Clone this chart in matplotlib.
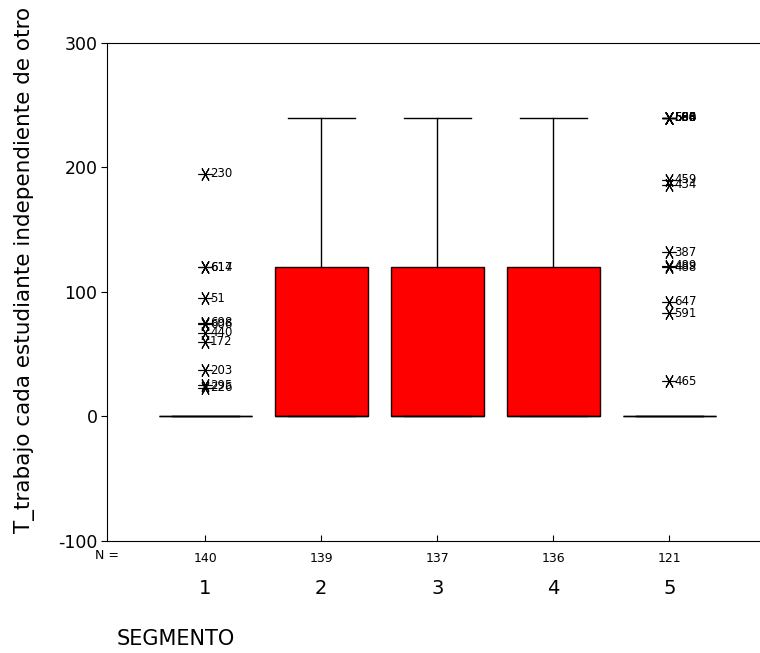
import numpy as np
import matplotlib
matplotlib.use("Agg")
import matplotlib.pyplot as plt

plt.rcParams['font.family'] = ['DejaVu Sans']
plt.rcParams['axes.unicode_minus'] = False

# datos por segmento
segmentos = ['1', '2', '3', '4', '5']
n_casos = [140, 139, 137, 136, 121]
q1 = [0, 0, 0, 0, 0]
mediana = [0, 0, 0, 0, 0]
q3 = [0, 120, 120, 120, 0]
bigote_inf = [0, 0, 0, 0, 0]
bigote_sup = [0, 240, 240, 240, 0]

# casos extremos (valor, numero de caso)
extremos_1 = [(195, '230'), (120, '614'), (120, '617'), (95, '51'),
              (75, '698'), (74, '606'), (67, '440'), (60, '172'),
              (37, '203'), (25, '295'), (23, '226')]
extremos_5 = [(240, '568'), (240, '550'), (240, '566'), (240, '593'),
              (240, '584'), (240, '600'), (190, '459'), (186, '434'),
              (132, '387'), (120, '488'), (121, '489'), (92, '647'),
              (83, '591'), (28, '465')]
extremos = {1: extremos_1, 5: extremos_5}

etiqueta_y = 'T_trabajo cada estudiante independiente de otro'
etiqueta_x = 'SEGMENTO'

#--------------------------------------------------------------------
# grafica
#--------------------------------------------------------------------

fig = plt.figure(figsize=(7.6, 6.53), dpi=100)
ax = fig.add_axes([0.141, 0.172, 0.859, 0.762])

stats = []
for i in range(len(segmentos)):
    stats.append(dict(q1=q1[i], med=mediana[i], q3=q3[i],
                      whislo=bigote_inf[i], whishi=bigote_sup[i], fliers=[]))

pos = np.arange(1, len(segmentos) + 1)
ax.bxp(stats, positions=pos, widths=0.8, capwidths=0.58, patch_artist=True,
       showfliers=False,
       boxprops=dict(facecolor='#ff0000', edgecolor='#200000', linewidth=1),
       medianprops=dict(color='black', linewidth=1),
       whiskerprops=dict(color='black', linewidth=1),
       capprops=dict(color='black', linewidth=1))

# asteriscos de los extremos
for seg, lista in extremos.items():
    vals = [v for v, _ in lista]
    ax.plot([seg] * len(vals), vals, linestyle='none', marker=(6, 2, 90),
            markersize=10, color='black', markeredgewidth=0.8)
    for v, caso in lista:
        ax.annotate(caso, (seg, v), xytext=(3.5, 0), textcoords='offset points',
                    va='center', ha='left', fontsize=8.5, color='black')

ax.set_xlim(0.155, 5.78)
ax.set_ylim(-100, 300)
ax.set_yticks([-100, 0, 100, 200, 300])
ax.tick_params(axis='y', direction='out', length=4, labelsize=12.5, pad=3)
ax.set_xticks(pos)
ax.set_xticklabels([str(n) for n in n_casos])
ax.tick_params(axis='x', direction='in', length=4, labelsize=9, pad=8)
ax.spines['right'].set_visible(False)

# numeros de segmento debajo de los N
for p, s in zip(pos, segmentos):
    ax.annotate(s, (p, 0), xycoords=('data', 'axes fraction'),
                xytext=(0, -34.5), textcoords='offset points',
                ha='center', va='center', fontsize=14)
ax.annotate('N =', (0, 0), xycoords='axes fraction', xytext=(0, -10.5),
            textcoords='offset points', ha='center', va='center', fontsize=9)

fig.text(25 / 760, 1 - 270 / 653, etiqueta_y, rotation=90, fontsize=15.5,
         ha='center', va='center')
fig.text(117 / 760, 1 - 639 / 653, etiqueta_x, fontsize=15, ha='left',
         va='center')

plt.savefig('out.png', dpi=100)
